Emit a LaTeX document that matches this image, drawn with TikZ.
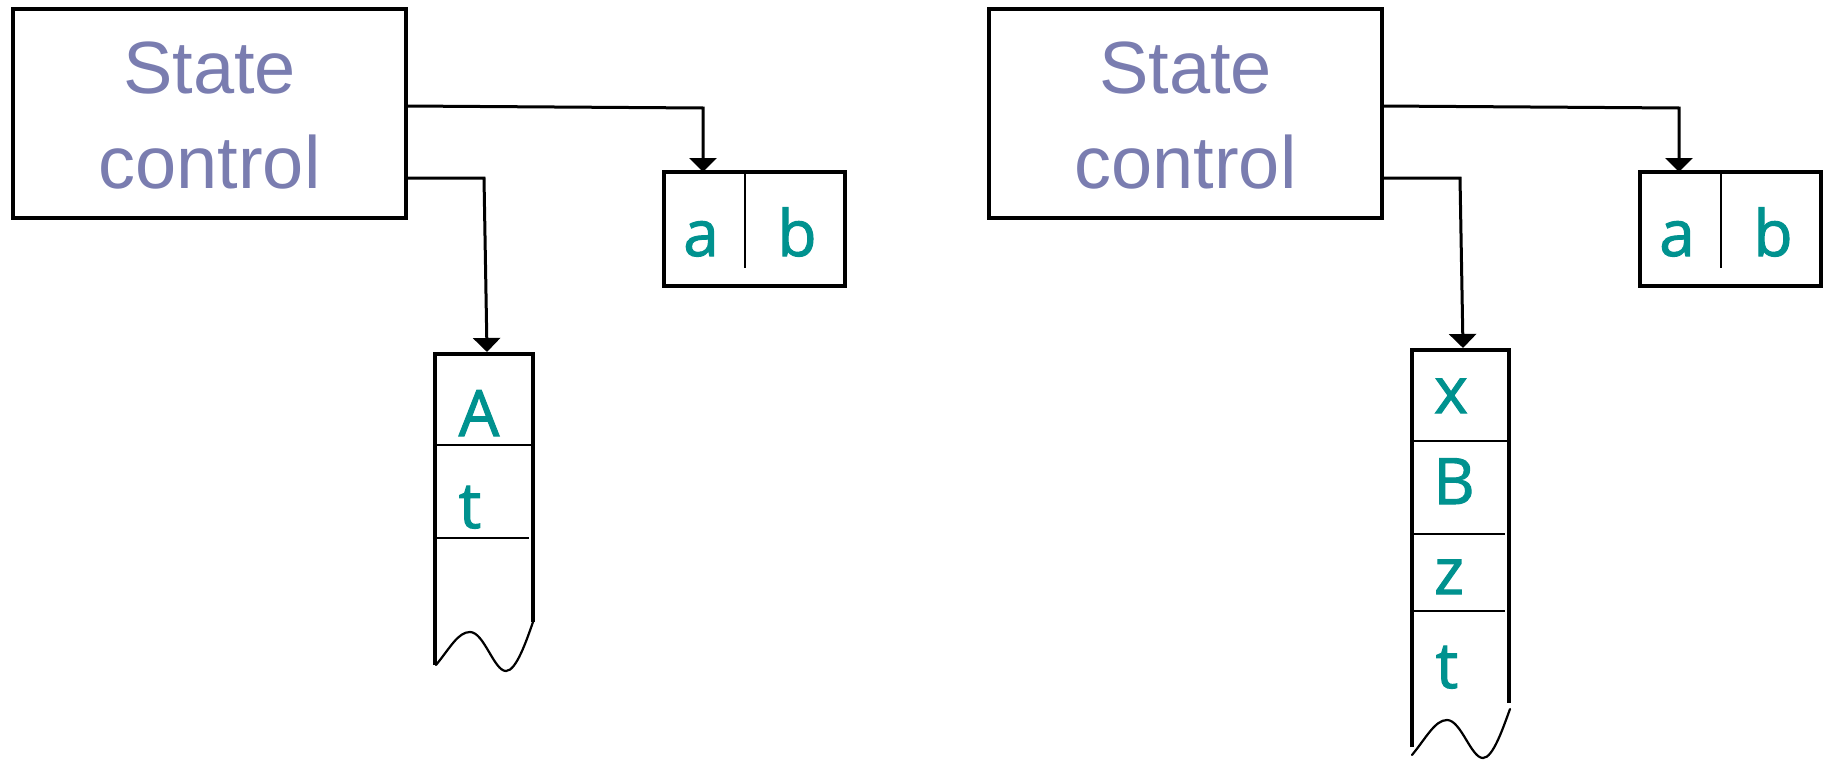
\documentclass[tikz,border=0pt]{standalone}
\usepackage{fontspec}
\setmainfont{Liberation Sans}
\newfontfamily\handfont{Open Sans}[FakeBold=1.6]
\usetikzlibrary{arrows.meta}
\definecolor{statecol}{RGB}{122,125,176}
\definecolor{symcol}{RGB}{0,146,143}
\begin{document}
\begin{tikzpicture}[x=1pt,y=-1pt,
  box/.style={draw, line width=3.2pt, inner sep=0pt, outer sep=0pt},
  ctrlbox/.style={box, minimum width=393pt, minimum height=209pt},
  regbox/.style={box, minimum width=181pt, minimum height=114pt},
  statetext/.style={anchor=base, inner sep=0pt, text=statecol, font=\fontsize{74}{88}\selectfont},
  sym/.style={anchor=base, inner sep=0pt, text=symcol, font=\handfont\fontsize{64}{64}\selectfont},
  wire/.style={line width=3pt, -{Triangle[width=27pt,length=14pt]}},
  tapeside/.style={line width=3.2pt},
  cellrule/.style={line width=1.8pt},
  tear/.style={line width=2.2pt, line cap=round}
]
\useasboundingbox (0,0) rectangle (1830,760);

% ---------- left machine ----------
\node[ctrlbox] (stateL) at (209.5,113.5) {};
\node[statetext] (stateLa) at (209.5,93) {State};
\node[statetext] (stateLb) at (209.5,188) {control};

\node[regbox] (regL) at (754.5,229) {};
\draw[cellrule] (745,172) -- (745,268);
\node[sym] (regLa) at (701,256) {a};
\node[sym] (regLb) at (797,256) {b};

% tape
\coordinate (tapeLtop) at (487,352);
\draw[tapeside] (435,665) -- (435,354) -- (533,354) -- (533,622);
\draw[cellrule] (435,445) -- (533,445);
\draw[cellrule] (435,538) -- (529,538);
\draw[tear] (436,665) .. controls (450,648) and (458,632) .. (470,632)
  .. controls (484,632) and (494,671) .. (506,671)
  .. controls (516,671) and (526,642) .. (533,622);
\node[sym] (tapeLA) at (479,436) {A};
\node[sym] (tapeLt) at (470,528) {t};

% connectors
\draw[wire] (stateL.east |- 0,106) -- (703,108) -- (703,0 |- regL.north);
\draw[wire] (stateL.east |- 0,178) -- (484,178) -- (tapeLtop);

% ---------- right machine ----------
\node[ctrlbox] (stateR) at (1185.5,113.5) {};
\node[statetext] (stateRa) at (1185.5,93) {State};
\node[statetext] (stateRb) at (1185.5,188) {control};

\node[regbox] (regR) at (1730.5,229) {};
\draw[cellrule] (1721,172) -- (1721,268);
\node[sym] (regRa) at (1677,256) {a};
\node[sym] (regRb) at (1773,256) {b};

% tape
\coordinate (tapeRtop) at (1463,348);
\draw[tapeside] (1412,747) -- (1412,350) -- (1509,350) -- (1509,703);
\draw[cellrule] (1412,441) -- (1509,441);
\draw[cellrule] (1412,534) -- (1505,534);
\draw[cellrule] (1412,611) -- (1505,611);
\draw[tear] (1412,755) .. controls (1426,738) and (1435,720) .. (1447,720)
  .. controls (1461,720) and (1471,758) .. (1483,758)
  .. controls (1493,758) and (1503,728) .. (1510,709);
\node[sym] (tapeRx) at (1451,413) {x};
\node[sym] (tapeRB) at (1454,504) {B};
\node[sym] (tapeRz) at (1449,594) {z};
\node[sym] (tapeRt) at (1447,688) {t};

% connectors
\draw[wire] (stateR.east |- 0,106) -- (1679,108) -- (1679,0 |- regR.north);
\draw[wire] (stateR.east |- 0,178) -- (1460,178) -- (tapeRtop);
\end{tikzpicture}
\end{document}
